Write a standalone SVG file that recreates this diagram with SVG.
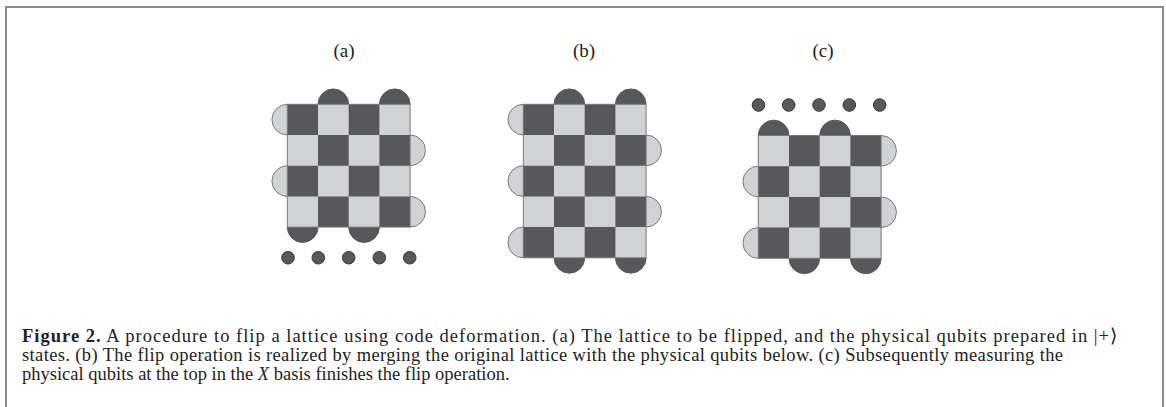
<svg xmlns="http://www.w3.org/2000/svg" width="1166" height="407" viewBox="0 0 1166 407">
<style>
.frame{fill:none;stroke:#8a8a8a;stroke-width:2}
.lt{fill:#d1d2d4}
.dk{fill:#58585a}
.sl{fill:#d1d2d4;stroke:#7a7a7a;stroke-width:1}
.sd{fill:#58585a;stroke:#58585a;stroke-width:1}
.bd{fill:none;stroke:#7a7a7a;stroke-width:1}
.dot{fill:#58585a;stroke:#3a3a3a;stroke-width:1}
.lbl{font-family:"Liberation Serif",serif;font-size:19px;fill:#222;text-anchor:middle}
.cap{font-family:"Liberation Serif",serif;font-size:18.5px;fill:#222}
</style>
<rect class="frame" x="6" y="7" width="1157" height="420"/>
<g id="labels">
<text class="lbl" x="344" y="57">(a)</text>
<text class="lbl" x="584" y="57">(b)</text>
<text class="lbl" x="823" y="57">(c)</text>
</g>
<g id="lattice-a" transform="translate(287.3,104.3)">
<path class="sd" d="M30.7,0 A15.35,15.35 0 0 1 61.4,0 Z M92.1,0 A15.35,15.35 0 0 1 122.8,0 Z"/>
<path class="sd" d="M30.7,122.8 A15.35,15.35 0 0 1 0,122.8 Z M92.1,122.8 A15.35,15.35 0 0 1 61.4,122.8 Z"/>
<path class="sl" d="M0,30.7 A15.35,15.35 0 0 1 0,0 M0,92.1 A15.35,15.35 0 0 1 0,61.4"/>
<path class="sl" d="M122.8,30.7 A15.35,15.35 0 0 1 122.8,61.4 M122.8,92.1 A15.35,15.35 0 0 1 122.8,122.8"/>
<rect class="lt" x="0" y="0" width="122.8" height="122.8"/>
<path class="dk" d="M0,0h30.7v30.7h-30.7z M61.4,0h30.7v30.7h-30.7z M30.7,30.7h30.7v30.7h-30.7z M92.1,30.7h30.7v30.7h-30.7z M0,61.4h30.7v30.7h-30.7z M61.4,61.4h30.7v30.7h-30.7z M30.7,92.1h30.7v30.7h-30.7z M92.1,92.1h30.7v30.7h-30.7z"/>
<rect class="bd" x="0" y="0" width="122.8" height="122.8"/>
</g>
<g id="qubits-a">
<circle class="dot" cx="288" cy="257.7" r="6.3"/>
<circle class="dot" cx="318.3" cy="257.7" r="6.3"/>
<circle class="dot" cx="348.7" cy="257.7" r="6.3"/>
<circle class="dot" cx="379.3" cy="257.7" r="6.3"/>
<circle class="dot" cx="409.7" cy="257.7" r="6.3"/>
</g>
<g id="lattice-b" transform="translate(523.3,104.3)">
<path class="sd" d="M30.7,0 A15.35,15.35 0 0 1 61.4,0 Z M92.1,0 A15.35,15.35 0 0 1 122.8,0 Z"/>
<path class="sd" d="M61.4,153.5 A15.35,15.35 0 0 1 30.7,153.5 Z M122.8,153.5 A15.35,15.35 0 0 1 92.1,153.5 Z"/>
<path class="sl" d="M0,30.7 A15.35,15.35 0 0 1 0,0 M0,92.1 A15.35,15.35 0 0 1 0,61.4 M0,153.5 A15.35,15.35 0 0 1 0,122.8"/>
<path class="sl" d="M122.8,30.7 A15.35,15.35 0 0 1 122.8,61.4 M122.8,92.1 A15.35,15.35 0 0 1 122.8,122.8"/>
<rect class="lt" x="0" y="0" width="122.8" height="153.5"/>
<path class="dk" d="M0,0h30.7v30.7h-30.7z M61.4,0h30.7v30.7h-30.7z M30.7,30.7h30.7v30.7h-30.7z M92.1,30.7h30.7v30.7h-30.7z M0,61.4h30.7v30.7h-30.7z M61.4,61.4h30.7v30.7h-30.7z M30.7,92.1h30.7v30.7h-30.7z M92.1,92.1h30.7v30.7h-30.7z M0,122.8h30.7v30.7h-30.7z M61.4,122.8h30.7v30.7h-30.7z"/>
<rect class="bd" x="0" y="0" width="122.8" height="153.5"/>
</g>
<g id="lattice-c" transform="translate(758.3,135.5)">
<path class="sd" d="M0,0 A15.35,15.35 0 0 1 30.7,0 Z M61.4,0 A15.35,15.35 0 0 1 92.1,0 Z"/>
<path class="sd" d="M61.4,122.8 A15.35,15.35 0 0 1 30.7,122.8 Z M122.8,122.8 A15.35,15.35 0 0 1 92.1,122.8 Z"/>
<path class="sl" d="M0,61.4 A15.35,15.35 0 0 1 0,30.7 M0,122.8 A15.35,15.35 0 0 1 0,92.1"/>
<path class="sl" d="M122.8,0 A15.35,15.35 0 0 1 122.8,30.7 M122.8,61.4 A15.35,15.35 0 0 1 122.8,92.1"/>
<rect class="lt" x="0" y="0" width="122.8" height="122.8"/>
<path class="dk" d="M30.7,0h30.7v30.7h-30.7z M92.1,0h30.7v30.7h-30.7z M0,30.7h30.7v30.7h-30.7z M61.4,30.7h30.7v30.7h-30.7z M30.7,61.4h30.7v30.7h-30.7z M92.1,61.4h30.7v30.7h-30.7z M0,92.1h30.7v30.7h-30.7z M61.4,92.1h30.7v30.7h-30.7z"/>
<rect class="bd" x="0" y="0" width="122.8" height="122.8"/>
</g>
<g id="qubits-c">
<circle class="dot" cx="758.5" cy="105" r="6.3"/>
<circle class="dot" cx="788.7" cy="105" r="6.3"/>
<circle class="dot" cx="819" cy="105" r="6.3"/>
<circle class="dot" cx="849.3" cy="105" r="6.3"/>
<circle class="dot" cx="879.7" cy="105" r="6.3"/>
</g>
<g id="caption">
<text class="cap" x="22" y="342" textLength="1095" lengthAdjust="spacing"><tspan font-weight="bold">Figure 2.</tspan> A procedure to flip a lattice using code deformation. (a) The lattice to be flipped, and the physical qubits prepared in |+⟩</text>
<text class="cap" x="22" y="361" textLength="1041" lengthAdjust="spacing">states. (b) The flip operation is realized by merging the original lattice with the physical qubits below. (c) Subsequently measuring the</text>
<text class="cap" x="22" y="380">physical qubits at the top in the <tspan font-style="italic">X</tspan> basis finishes the flip operation.</text>
</g>
</svg>
